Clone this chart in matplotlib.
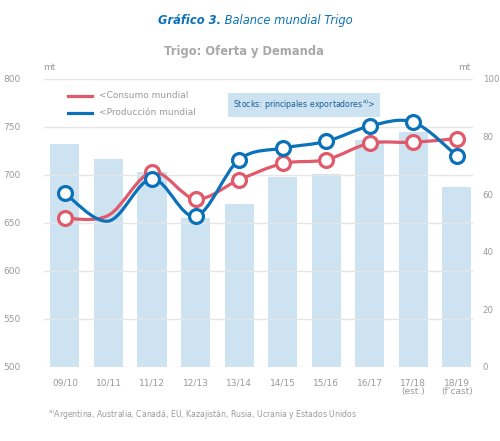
import numpy as np
import matplotlib
matplotlib.use("Agg")
import matplotlib.pyplot as plt
from matplotlib.path import Path
from matplotlib.patches import PathPatch

plt.rcParams['font.family'] = ['Liberation Sans Narrow', 'DejaVu Sans']

campanas = ['09/10', '10/11', '11/12', '12/13', '13/14', '14/15', '15/16', '16/17', '17/18\n(est.)', '18/19\n(f\u2019cast)']
consumo = [655, 658, 703, 675, 695, 712, 716, 733, 734, 738]
produccion = [681, 652, 696, 657, 716, 728, 735, 751, 755, 720]
stocks = [77.5, 72.2, 67.6, 51.7, 56.7, 66.1, 67.1, 78.9, 81.6, 62.6]
# la campaña 10/11 no lleva marcador en el original
con_marca = [0, 2, 3, 4, 5, 6, 7, 8, 9]

ROJO = '#e05a6b'
AZUL = '#0b72b9'
BARRA = '#cde3f1'
GRIS = '#9a9a9a'


def suave(x, y, t=1/6):
    # curva tipo Catmull-Rom como el suavizado de Excel
    x = np.asarray(x, float); y = np.asarray(y, float)
    verts = [(x[0], y[0])]
    codes = [Path.MOVETO]
    n = len(x)
    for i in range(n - 1):
        i0 = max(i - 1, 0); i3 = min(i + 2, n - 1)
        c1 = (x[i] + (x[i + 1] - x[i0]) * t, y[i] + (y[i + 1] - y[i0]) * t)
        c2 = (x[i + 1] - (x[i3] - x[i]) * t, y[i + 1] - (y[i3] - y[i]) * t)
        verts += [c1, c2, (x[i + 1], y[i + 1])]
        codes += [Path.CURVE4] * 3
    return Path(verts, codes)


fig = plt.figure(figsize=(5.0, 4.41), dpi=100)
ax = fig.add_axes([44/500, 1 - 367/441, 429/500, 288/441])
ax2 = ax.twinx()
ax.set_zorder(ax2.get_zorder() + 1)
ax.patch.set_visible(False)

xs = np.arange(len(campanas))
ax2.bar(xs, stocks, width=0.67, color=BARRA, zorder=1)
ax2.set_ylim(0, 100)
ax2.set_yticks([0, 20, 40, 60, 80, 100])

for serie, col in [(consumo, ROJO), (produccion, AZUL)]:
    ax.add_patch(PathPatch(suave(xs, serie), fill=False, edgecolor=col, lw=2.3, zorder=3))
    ax.plot(xs[con_marca], np.asarray(serie)[con_marca], ls='none', marker='o', ms=10,
            mfc='white', mec=col, mew=2.3, zorder=4)

ax.set_ylim(500, 800)
ax.set_xlim(-0.48, 9.37)
ax.set_yticks(range(500, 801, 50))
ax.set_xticks(xs)
ax.set_xticklabels(campanas)
ax.grid(axis='y', color='#e6e6e6', lw=1)
ax.set_axisbelow(True)

for a in (ax, ax2):
    for s in a.spines.values():
        s.set_visible(False)
    a.tick_params(length=0, colors=GRIS, labelsize=6.5)
ax.tick_params(axis='y', pad=17)
ax2.tick_params(axis='y', pad=7, labelsize=6.2)
ax.tick_params(axis='x', pad=8)
for lb in ax.get_xticklabels():
    lb.set_linespacing(1.0)

# leyenda
ax.plot([0.056, 0.112], [0.941, 0.941], transform=ax.transAxes, color=ROJO, lw=2.3, clip_on=False)
ax.plot([0.056, 0.112], [0.882, 0.882], transform=ax.transAxes, color=AZUL, lw=2.3, clip_on=False)
ax.text(0.128, 0.941, '<Consumo mundial', transform=ax.transAxes, color=GRIS, fontsize=6.5, va='center')
ax.text(0.128, 0.882, '<Producción mundial', transform=ax.transAxes, color=GRIS, fontsize=6.5, va='center')
ax.text(0.44, 0.91, 'Stocks: principales exportadores$^{\\mathrm{a)}}$>', transform=ax.transAxes,
        color='#1a5e96', fontsize=5.7, va='center',
        bbox=dict(boxstyle='square,pad=0.6', fc=BARRA, ec='none'))

ax.text(-0.002, 1.025, 'mt', transform=ax.transAxes, color=GRIS, fontsize=6.5, ha='left', va='bottom')
ax.text(0.995, 1.025, 'mt', transform=ax.transAxes, color=GRIS, fontsize=6.5, ha='right', va='bottom')

fig.text(0.442, 0.953, 'Gráfico 3.', color=AZUL, fontsize=8.3, weight='bold', style='italic',
         ha='right', va='center')
fig.text(0.442, 0.953, ' Balance mundial Trigo', color=AZUL, fontsize=8.3, style='italic',
         ha='left', va='center')
fig.text(0.487, 0.884, 'Trigo: Oferta y Demanda', color='#a8a8a8', fontsize=8.3, weight='bold',
         ha='center', va='center')
fig.text(0.096, 0.059, '$^{\\mathrm{a)}}$Argentina, Australia, Canadá, EU, Kazajistán, Rusia, Ucrania y Estados Unidos',
         color=GRIS, fontsize=5.6, ha='left', va='center')

fig.savefig('out.png', dpi=100)
